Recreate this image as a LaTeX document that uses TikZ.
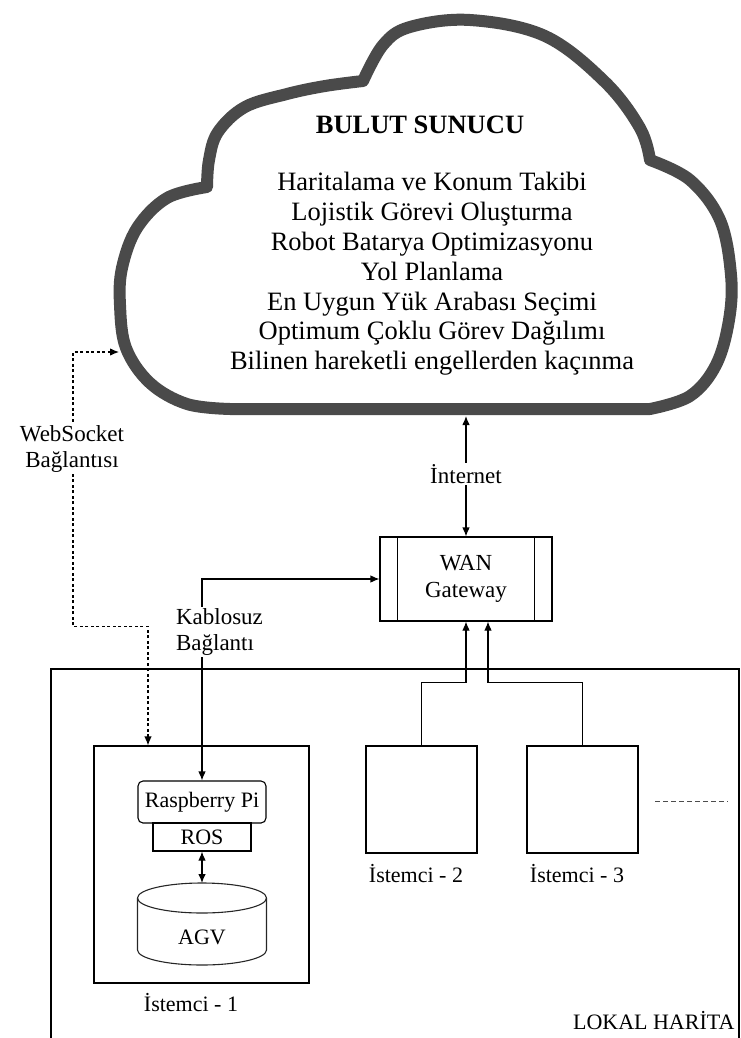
\documentclass[tikz,border=0pt]{standalone}
\usepackage{fontspec}
\setmainfont{Liberation Serif}
\usetikzlibrary{arrows.meta}
\definecolor{cloudgray}{HTML}{4A4A4A}
\newcommand\cloudtext{\fontsize{26.5}{29.8}\selectfont}
\newcommand\labeltext{\fontsize{23}{26.5}\selectfont}
\newcommand\smalltext{\fontsize{22}{25}\selectfont}
\begin{document}
\begin{tikzpicture}[x=1pt,y=-1pt,line width=1.1pt,
  tipend/.style={-{Latex[length=9pt,width=7.5pt]}},
  tipboth/.style={{Latex[length=9pt,width=7.5pt]}-{Latex[length=9pt,width=7.5pt]}},
  wsline/.style={dash pattern=on 3pt off 2.5pt, line width=1.2pt},
  cloudline/.style={draw=cloudgray, line width=12pt, line join=round, line cap=round},
  framebox/.style={draw, inner sep=0pt},
  lbl/.style={font=\labeltext, inner sep=1.5pt, align=center},
  clbl/.style={font=\smalltext, inner sep=1pt}]
\useasboundingbox (0,0) rectangle (741,1038);
\clip (0,0) rectangle (741,1038);

% cloud server outline
\draw[cloudline] (230,409) -- (650,409)
  -- plot[smooth, tension=0.6] coordinates {(650,409) (690,396) (716,365) (729,320) (731,275) (720,220) (690,180) (650,160)}
  -- plot[smooth, tension=0.6] coordinates {(650,160) (640,128) (605,82) (545,36) (470,20) (410,27) (383,45) (363,81)}
  -- plot[smooth, tension=0.6] coordinates {(363,81) (325,86) (287,94) (245,107) (218,132) (209,160) (207,187)}
  -- plot[smooth, tension=0.6] coordinates {(207,187) (167,198) (137,228) (122,268) (120,305) (126,348) (150,383) (187,404) (230,409)}
  -- cycle;

\node[font=\cloudtext\bfseries, inner sep=0pt] (title) at (420,125) {BULUT SUNUCU};
\node[font=\cloudtext, align=center, inner sep=0pt] (tasks) at (432,274)
  {Haritalama ve Konum Takibi\\
   Lojistik Görevi Oluşturma\\
   Robot Batarya Optimizasyonu\\
   Yol Planlama\\
   En Uygun Yük Arabası Seçimi\\
   Optimum Çoklu Görev Dağılımı\\
   Bilinen hareketli engellerden kaçınma};

\coordinate (cloudB) at (466,416);
\coordinate (cloudL) at (119,352);

% local map region
\node[framebox, minimum width=688pt, minimum height=381pt] (lokal) at (395,859.5) {};
\node[clbl, anchor=east] (lokaltitle) at (736,1021) {LOKAL HARİTA};

% WAN gateway
\node[framebox, minimum width=172pt, minimum height=84pt, font=\labeltext, align=center] (gw) at (466,579) {WAN\\Gateway};
\draw ([xshift=18pt]gw.north west) -- ([xshift=18pt]gw.south west);
\draw ([xshift=-18pt]gw.north east) -- ([xshift=-18pt]gw.south east);

% clients
\node[framebox, minimum width=215pt, minimum height=237pt] (c1) at (201.5,864.5) {};
\node[framebox, minimum width=111pt, minimum height=107pt] (c2) at (421.5,799.5) {};
\node[framebox, minimum width=111pt, minimum height=107pt] (c3) at (582.5,799.5) {};
\node[clbl] (c1lbl) at (191,1003) {İstemci - 1};
\node[clbl] (c2lbl) at (416,874) {İstemci - 2};
\node[clbl] (c3lbl) at (577,874) {İstemci - 3};
\draw[dash pattern=on 5pt off 3pt, line width=1pt, black!70] (655,801) -- (728,801);

% inside client 1: Raspberry Pi with ROS on top of the AGV
\node[draw, rounded corners=5pt, minimum width=128pt, minimum height=42pt, font=\smalltext, inner sep=0pt] (rpi) at (202,802) {Raspberry Pi};
\node[draw, minimum width=98pt, minimum height=28pt, font=\smalltext, inner sep=0pt] (ros) at (202,837) {ROS};
\draw[line width=1.1pt, draw=black!85] (137.5,898) -- (137.5,950)
  arc[start angle=180, end angle=360, x radius=64.5pt, y radius=15pt] -- (266.5,898);
\draw[line width=1.1pt, draw=black!85] (202,898) ellipse [x radius=64.5pt, y radius=15pt];
\node[clbl] (agv) at (202,937) {AGV};
\coordinate (agvtop) at (202,883);
\draw[tipboth] (ros.south) -- (agvtop);

% connections
\draw[tipboth] (gw.north) -- node[lbl, fill=white, pos=0.52] (inet) {İnternet} (cloudB);
\draw[tipboth] (rpi.north) |- (gw.west);
\node[lbl, fill=white, anchor=west, align=left] (wl) at (174,632) {Kablosuz\\Bağlantı};
\draw[tipend] (c2.north) -- ++(0,-63) -| (gw.south);
\draw[tipend] (c3.north) -- ++(0,-63) -| ([xshift=22pt]gw.south);
\draw[wsline, tipboth] ([xshift=-53.5pt]c1.north) -- ++(0,-119) -- ++(-75,0) |- (cloudL);
\node[lbl, fill=white] (wsl) at (72,449) {WebSocket\\Bağlantısı};
\end{tikzpicture}
\end{document}
